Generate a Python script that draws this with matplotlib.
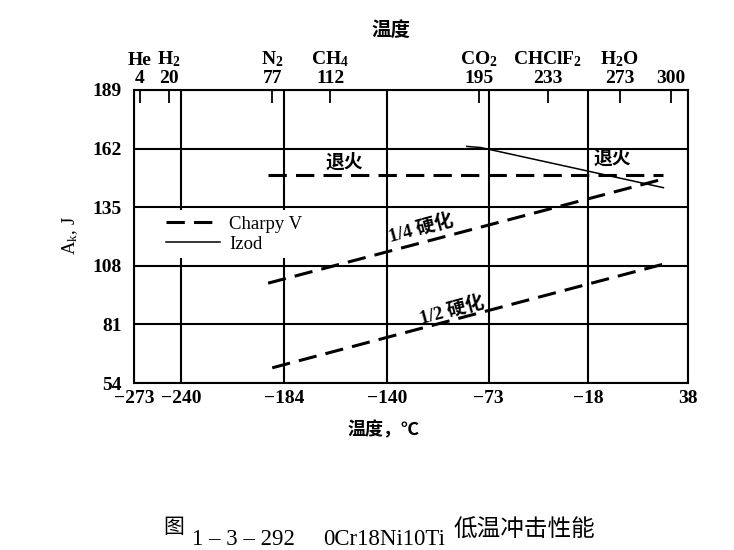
import numpy as np
import matplotlib
matplotlib.use("Agg")
import matplotlib.pyplot as plt
from matplotlib.lines import Line2D

plt.rcParams['mathtext.fontset'] = 'custom'
plt.rcParams['mathtext.rm'] = 'Liberation Serif'
plt.rcParams['mathtext.it'] = 'Liberation Serif:italic'
plt.rcParams['mathtext.bf'] = 'Liberation Serif:bold'

SERIF = ['Liberation Serif', 'Noto Sans CJK SC']
CJK = ['Noto Sans CJK SC', 'DejaVu Sans']

# --- données ---
# axe inférieur (°C), graduations non linéaires de l'original
ticks_c = [-273, -240, -184, -140, -73, -18, 38]
ticks_j = [54, 81, 108, 135, 162, 189]

# axe supérieur (K)
ticks_k = [4, 20, 77, 112, 195, 233, 273, 300]
noms_k = ["He", r"H$_\mathbf{2}$", r"N$_\mathbf{2}$", r"CH$_\mathbf{4}$",
          r"CO$_\mathbf{2}$", r"CHClF$_\mathbf{2}$", r"H$_\mathbf{2}$O", ""]

# échelle de l'original : température (°C) -> position relative des graduations
ech_t = [-273, -269, -253, -240, -196, -184, -161, -140, -78, -73, -40, -18, 0, 27, 38]
ech_p = [0, 6, 35, 47, 138, 150, 196, 253, 344, 354, 413, 453, 485, 536, 553]

# Charpy V
t_recuit = [-198, 23]
a_recuit = [150, 150]
t_quart = [-198, 23]
a_quart = [100, 148]
t_demi = [-196, 24]
a_demi = [61, 109]
# Izod
t_izod = [-86, -77, 23]
a_izod = [163, 162.5, 144]


def fwd(t):
    return np.interp(t, ech_t, ech_p)


def inv(p):
    return np.interp(p, ech_p, ech_t)


fig = plt.figure(figsize=(7.34, 5.5), dpi=100)
ax = fig.add_axes([134 / 734, 1 - 383 / 550, 554 / 734, 293 / 550])

ax.set_xscale('function', functions=(fwd, inv))
ax.set_xlim(-273, 38)
ax.set_ylim(54, 189)
ax.set_xticks(ticks_c)
ax.set_xticklabels([f"\u2212{-t}" if t < 0 else str(t) for t in ticks_c])
ax.set_yticks(ticks_j)
ax.tick_params(length=0, labelsize=14)
ax.tick_params(axis='x', pad=5)
ax.tick_params(axis='y', pad=9)
for lab in ax.get_xticklabels() + ax.get_yticklabels():
    lab.set_family(SERIF)
    lab.set_fontweight('bold')
ax.grid(True, color='black', linewidth=1.5)
for s in ax.spines.values():
    s.set_linewidth(1.5)

# axe supérieur en kelvins
ax2 = ax.twiny()
ax2.set_xscale('function', functions=(fwd, inv))
ax2.set_xlim(-273, 38)
ax2.set_xticks(np.array(ticks_k) - 273)
ax2.set_xticklabels([f"{n}\n{k}" if n else f"{k}" for n, k in zip(noms_k, ticks_k)],
                    family=SERIF, fontweight='bold', fontsize=14, linespacing=1.1)
ax2.tick_params(axis='x', direction='in', length=9, width=1.3, pad=2)
for s in ax2.spines.values():
    s.set_visible(False)

# courbes
tirets = (6, 3)
ax.plot(t_recuit, a_recuit, color='black', lw=2.2, dashes=tirets, zorder=3)
ax.plot(t_quart, a_quart, color='black', lw=2.2, dashes=tirets, zorder=3)
ax.plot(t_demi, a_demi, color='black', lw=2.2, dashes=tirets, zorder=3)
ax.plot(t_izod, a_izod, color='black', lw=1.1, zorder=3)

ax.text(-156, 156, "退火", family=CJK, fontsize=13.5, fontweight='bold',
        ha='center', va='center')
ax.text(-4.5, 157.5, "退火", family=CJK, fontsize=13.5, fontweight='bold',
        ha='center', va='center')
ax.text(-117, 125, "1/4 硬化", family=SERIF, fontsize=13.5, fontweight='bold',
        ha='center', va='center', rotation=15)
ax.text(-96, 87.5, "1/2 硬化", family=SERIF, fontsize=13.5, fontweight='bold',
        ha='center', va='center', rotation=15)

handles = [Line2D([], [], color='black', lw=2.2, dashes=tirets),
           Line2D([], [], color='black', lw=1.1)]
leg = ax.legend(handles, ["Charpy V", "Izod"], loc='upper left',
                bbox_to_anchor=(0.047, 0.59), borderaxespad=0,
                prop={'family': 'Liberation Serif', 'size': 13.5},
                handlelength=2.9, handletextpad=0.5, labelspacing=0.15,
                frameon=True, fancybox=False, framealpha=1,
                facecolor='white', edgecolor='none', borderpad=0.3)
leg.set_zorder(5)

# titres d'axes
fig.text(391 / 734, 1 - 30 / 550, "温度", family=CJK, fontsize=14,
         fontweight='bold', ha='center', va='center')
fig.text(384 / 734, 1 - 430 / 550, "温度，℃", family=CJK, fontsize=13,
         fontweight='bold', ha='center', va='center')
fig.text(70 / 734, 1 - 236 / 550, r"A$_\mathrm{k}$, J", family=SERIF,
         fontsize=13.5, rotation=90, ha='center', va='center')

# légende de la figure
fig.text(163 / 734, 1 - 527 / 550, "图", family=CJK, fontsize=15,
         ha='left', va='center')
fig.text(192 / 734, 1 - 545 / 550, "1 – 3 – 292", family=SERIF, fontsize=16.5,
         ha='left', va='baseline')
fig.text(323 / 734, 1 - 545 / 550, "0Cr18Ni10Ti", family=SERIF, fontsize=16.5,
         ha='left', va='baseline')
fig.text(453 / 734, 1 - 530 / 550, "低温冲击性能", family=CJK, fontsize=17,
         ha='left', va='center')

fig.savefig("out.png", dpi=100)
